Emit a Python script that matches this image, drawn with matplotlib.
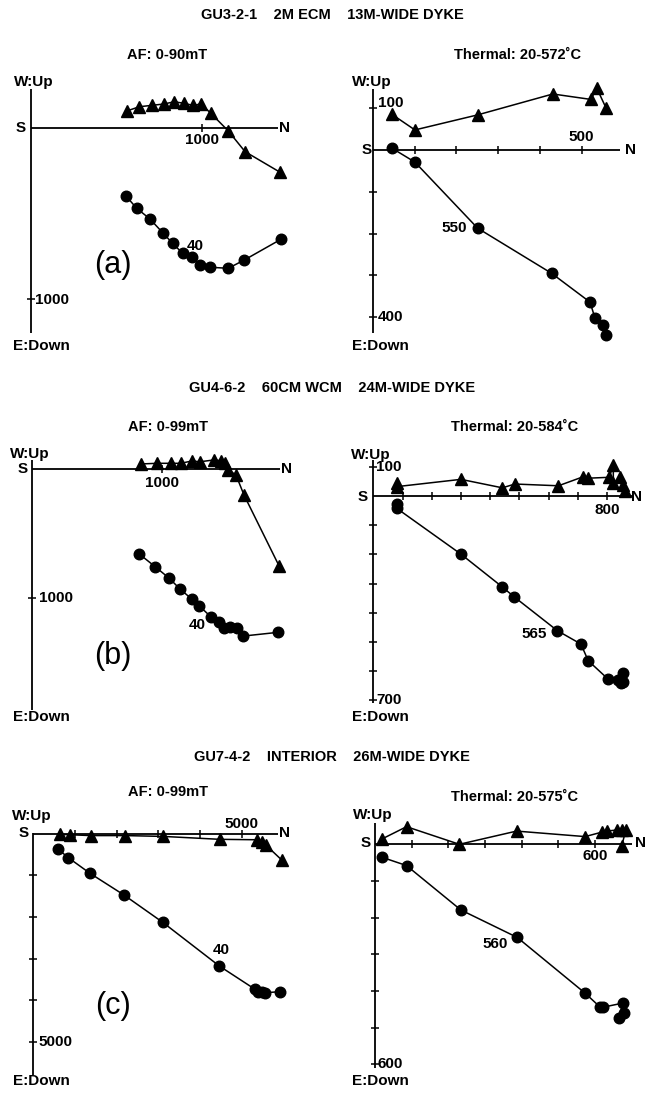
import numpy as np
import matplotlib.pyplot as plt

plt.rcParams['font.family'] = ['Liberation Sans', 'DejaVu Sans']
plt.rcParams['font.size'] = 10.5
plt.rcParams['font.weight'] = 'bold'

W, H = 660, 1097

## Zijderveld data
# triangles: N vs W(up), circles: N vs down
# (a) GU3-2-1, AF
a_af_h_n = [560, 633, 706, 777, 837, 894, 945, 993, 1050, 1152, 1250, 1454]
a_af_h_w = [99, 124, 132, 140, 153, 144, 132, 140, 86, -17, -138, -258]
a_af_v_n = [556, 618, 696, 770, 828, 886, 939, 987, 1045, 1152, 1245, 1459]
a_af_v_d = [397, 468, 531, 611, 673, 731, 750, 799, 812, 818, 770, 649]
# (a) GU3-2-1, thermal
a_th_h_n = [45, 101, 251, 431, 522, 536, 558]
a_th_h_w = [86, 48, 84, 134, 121, 148, 101]
a_th_v_n = [45, 101, 251, 428, 520, 532, 552, 558]
a_th_v_d = [-5, 29, 187, 295, 364, 403, 419, 443]
# (b) GU4-6-2, AF
b_af_h_n = [838, 966, 1070, 1149, 1232, 1296, 1404, 1456, 1489, 1515, 1574, 1636, 1909]
b_af_h_w = [39, 44, 44, 44, 62, 56, 70, 64, 44, -8, -46, -201, -753]
b_af_v_n = [827, 948, 1059, 1141, 1232, 1291, 1379, 1443, 1481, 1528, 1580, 1631, 1901]
b_af_v_d = [657, 754, 845, 927, 1005, 1059, 1141, 1185, 1231, 1218, 1226, 1291, 1262]
# (b) GU4-6-2, thermal
b_th_h_n = [80, 80, 300, 442, 485, 634, 719, 736, 808, 822, 822, 845, 856, 862]
b_th_h_w = [46, 32, 57, 28, 41, 35, 66, 61, 64, 106, 43, 64, 38, 17]
b_th_v_n = [80, 80, 300, 440, 482, 630, 711, 736, 805, 839, 854, 848, 854]
b_th_v_d = [27, 42, 199, 310, 345, 461, 507, 564, 628, 630, 605, 640, 636]
# (c) GU7-4-2, AF
c_af_h_n = [640, 880, 1384, 2199, 3118, 4477, 5357, 5477, 5580, 5957]
c_af_h_w = [-20, -30, -50, -50, -70, -140, -150, -200, -280, -635]
c_af_v_n = [600, 839, 1360, 2175, 3103, 4460, 5317, 5396, 5477, 5556, 5916]
c_af_v_d = [379, 580, 955, 1475, 2129, 3177, 3736, 3794, 3808, 3818, 3794]
# (c) GU7-4-2, thermal
c_th_h_n = [18, 86, 230, 386, 573, 618, 632, 659, 673, 684, 673]
c_th_h_w = [14, 48, 0, 36, 21, 33, 36, 39, 39, 39, -4]
c_th_v_n = [18, 86, 234, 388, 573, 614, 623, 676, 666, 680]
c_th_v_d = [35, 58, 179, 254, 406, 444, 444, 433, 473, 461]

row_titles = ['GU3-2-1    2M ECM    13M-WIDE DYKE',
              'GU4-6-2    60CM WCM    24M-WIDE DYKE',
              'GU7-4-2    INTERIOR    26M-WIDE DYKE']
row_title_y = [15, 388, 757]
row_tags = ['(a)', '(b)', '(c)']
row_tag_y = [265, 656, 1006]

# one entry per plot; pixel layout kept apart from the data
panels = [
    dict(title='AF: 0-90mT', tx=167, ty=55, box=(0, 60, 330, 360), org=(30.7, 128), s=0.1715,
         hn=a_af_h_n, hw=a_af_h_w, vn=a_af_v_n, vd=a_af_v_d,
         xend=1442, ytop=226, ybot=-1195, xt=[1000], yt=[-1000],
         xlab=(1000, '1000', -12), ylab=[(-1000, '1000', 4, 0)],
         note=(6, '40', 4, 11, 'center'),
         S=(21, 128), N=(284, 128), up=(34, 82), down=(13, 346)),
    dict(title='Thermal: 20-572˚C', tx=518, ty=55, box=(330, 60, 660, 360), org=(372.7, 150), s=0.418,
         hn=a_th_h_n, hw=a_th_h_w, vn=a_th_v_n, vd=a_th_v_d,
         xend=592, ytop=145, ybot=-438, xt=[100, 200, 300, 400, 500], yt=[100, -100, -200, -300, -400],
         xlab=(500, '500', 13), ylab=[(100, '100', 5, 5), (-400, '400', 5, 0)],
         note=(2, '550', -11, 0, 'right'),
         S=(367, 150), N=(630, 150), up=(372, 82), down=(352, 346)),
    dict(title='AF: 0-99mT', tx=168, ty=427, box=(0, 435, 330, 725), org=(32.3, 469), s=0.1294,
         hn=b_af_h_n, hw=b_af_h_w, vn=b_af_v_n, vd=b_af_v_d,
         xend=1913, ytop=70, ybot=-1862, xt=[1000], yt=[-1000],
         xlab=(1000, '1000', -14), ylab=[(-1000, '1000', 7, 0)],
         note=(6, '40', -5, -8, 'right'),
         S=(23, 469), N=(286, 469), up=(30, 454), down=(13, 717)),
    dict(title='Thermal: 20-584˚C', tx=515, ty=427, box=(330, 435, 660, 725), org=(373.3, 496), s=0.292,
         hn=b_th_h_n, hw=b_th_h_w, vn=b_th_v_n, vd=b_th_v_d,
         xend=885, ytop=123, ybot=-709, xt=[100, 200, 300, 400, 500, 600, 700, 800],
         yt=[100, -100, -200, -300, -400, -500, -600, -700],
         xlab=(800, '800', -14), ylab=[(100, '100', 3, 0), (-700, '700', 3, 0)],
         note=(5, '565', -10, -3, 'right'),
         S=(363, 497), N=(637, 497), up=(371, 455), down=(352, 717)),
    dict(title='AF: 0-99mT', tx=168, ty=792, box=(0, 800, 330, 1097), org=(33.3, 833.5), s=0.0417,
         hn=c_af_h_n, hw=c_af_h_w, vn=c_af_v_n, vd=c_af_v_d,
         xend=5875, ytop=10, ybot=-5791, xt=[1000, 2000, 3000, 4000, 5000],
         yt=[-1000, -2000, -3000, -4000, -5000],
         xlab=(5000, '5000', 9), ylab=[(-5000, '5000', 5, 0)],
         note=(5, '40', 2, 16, 'center'),
         S=(24, 833), N=(285, 833), up=(32, 816), down=(13, 1081)),
    dict(title='Thermal: 20-575˚C', tx=515, ty=797, box=(330, 800, 660, 1097), org=(375, 844.3), s=0.3667,
         hn=c_th_h_n, hw=c_th_h_w, vn=c_th_v_n, vd=c_th_v_d,
         xend=700, ytop=57, ybot=-611, xt=[100, 200, 300, 400, 500, 600],
         yt=[-100, -200, -300, -400, -500, -600],
         xlab=(600, '600', -12), ylab=[(-600, '600', 2, 0)],
         note=(3, '560', -9, -7, 'right'),
         S=(366, 843), N=(640, 843), up=(373, 815), down=(352, 1081)),
]

fig = plt.figure(figsize=(W / 100, H / 100), dpi=100)


def ftext(x, y, s, **kw):
    # text placed in figure pixels (y from top)
    fig.text(x / W, 1 - y / H, s, va='center', **kw)


def off(ax, x, y, s, dx, dy, ha='center'):
    # label next to a data point, offset in pixels
    ax.annotate(s, (x, y), xytext=(dx * 0.72, dy * 0.72), textcoords='offset points',
                ha=ha, va='center', fontweight='bold', fontsize=11)


for p in panels:
    x0, y0, x1, y1 = p['box']
    ox, oy = p['org']
    s = p['s']
    ax = fig.add_axes([x0 / W, 1 - y1 / H, (x1 - x0) / W, (y1 - y0) / H])
    ax.set_xlim((x0 - ox) / s, (x1 - ox) / s)
    ax.set_ylim((oy - y1) / s, (oy - y0) / s)
    ax.axis('off')

    # cross axes with cross ticks
    ax.plot([0, p['xend']], [0, 0], color='k', lw=1.3, solid_capstyle='butt')
    ax.plot([0, 0], [p['ybot'], p['ytop']], color='k', lw=1.3, solid_capstyle='butt')
    ax.plot(p['xt'], np.zeros(len(p['xt'])), ls='none', marker='|', ms=6, mew=1.1, color='k')
    ax.plot(np.zeros(len(p['yt'])), p['yt'], ls='none', marker='_', ms=6, mew=1.1, color='k')

    xv, xs, xdy = p['xlab']
    off(ax, xv, 0, xs, 0, xdy)
    for yv, ys, ydx, ydy in p['ylab']:
        off(ax, 0, yv, ys, ydx, ydy, ha='left')

    # horizontal projection (triangles) and vertical projection (circles)
    ax.plot(p['hn'], p['hw'], '-^', color='k', ms=9, lw=1.1, clip_on=False)
    down = -np.array(p['vd'])
    ax.plot(p['vn'], down, '-o', color='k', ms=7.6, lw=1.1, clip_on=False)

    i, ns, ndx, ndy, nha = p['note']
    off(ax, p['vn'][i], down[i], ns, ndx, ndy, ha=nha)

    ftext(p['tx'], p['ty'], p['title'], ha='center', fontweight='bold')
    ftext(*p['S'], 'S', ha='center', fontweight='bold', fontsize=11)
    ftext(*p['N'], 'N', ha='center', fontweight='bold', fontsize=11)
    ftext(*p['up'], 'W:Up', ha='center', fontweight='bold', fontsize=11)
    ftext(*p['down'], 'E:Down', ha='left', fontweight='bold', fontsize=11)

for t, y in zip(row_titles, row_title_y):
    ftext(332, y, t, ha='center', fontweight='bold')
for t, y in zip(row_tags, row_tag_y):
    ftext(113, y, t, ha='center', fontsize=22, fontweight='normal')

fig.savefig('out.png', dpi=100)
